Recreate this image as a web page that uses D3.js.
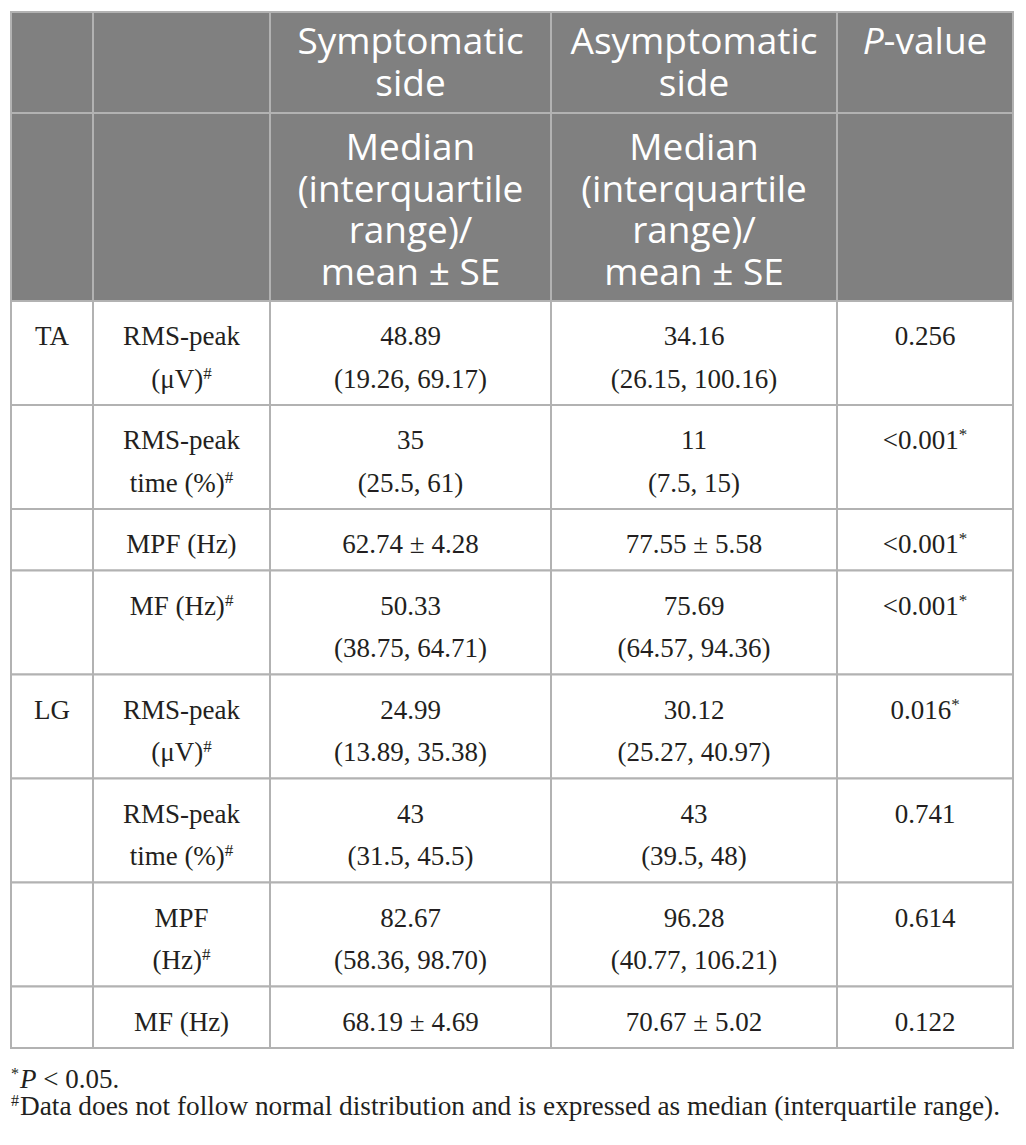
<!DOCTYPE html>
<html>
<head>
<meta charset="utf-8">
<script src="https://cdn.jsdelivr.net/npm/d3@7"></script>
<style>
  body { margin: 0; background: #fff; }
  svg { display: block; }
</style>
</head>
<body>
<svg></svg>
<script>
const width = 1026;
const height = 1145;

// header texts, one entry per column
const headerTop = [[], [], ["Symptomatic", "side"], ["Asymptomatic", "side"], ["P-value"]];
const headerSub = [[], [], ["Median", "(interquartile", "range)/", "mean ± SE"],
  ["Median", "(interquartile", "range)/", "mean ± SE"], []];

// body
const muscles = ["TA", "", "", "", "LG", "", "", ""];
const parameters = [
  ["RMS-peak", "(μV)#"], ["RMS-peak", "time (%)#"], ["MPF (Hz)"], ["MF (Hz)#"],
  ["RMS-peak", "(μV)#"], ["RMS-peak", "time (%)#"], ["MPF", "(Hz)#"], ["MF (Hz)"]
];
const symptomatic = [
  ["48.89", "(19.26, 69.17)"], ["35", "(25.5, 61)"], ["62.74 ± 4.28"], ["50.33", "(38.75, 64.71)"],
  ["24.99", "(13.89, 35.38)"], ["43", "(31.5, 45.5)"], ["82.67", "(58.36, 98.70)"], ["68.19 ± 4.69"]
];
const asymptomatic = [
  ["34.16", "(26.15, 100.16)"], ["11", "(7.5, 15)"], ["77.55 ± 5.58"], ["75.69", "(64.57, 94.36)"],
  ["30.12", "(25.27, 40.97)"], ["43", "(39.5, 48)"], ["96.28", "(40.77, 106.21)"], ["70.67 ± 5.02"]
];
const pValues = ["0.256", "<0.001*", "<0.001*", "<0.001*", "0.016*", "0.741", "0.614", "0.122"];

const footnotes = ["*P < 0.05.",
  "#Data does not follow normal distribution and is expressed as median (interquartile range)."];

// layout
const colWidths = [82, 177, 281, 286, 176];
const tableLeft = 11, tableTop = 12;
const colEdges = [tableLeft, ...d3.cumsum(colWidths).map(d => d + tableLeft)];
const x = i => colEdges[i];
const cx = i => (colEdges[i] + colEdges[i + 1]) / 2;

const headLine = 41.5, bodyLine = 42.5;
const headHeights = [101, 188];
const rows = muscles.map((m, i) => {
  const cells = [[m], parameters[i], symptomatic[i], asymptomatic[i], [pValues[i]]];
  const lines = d3.max(cells, c => c.length);
  return { cells, h: 19 + bodyLine * lines };
});
const bodyTop = tableTop + d3.sum(headHeights);
const rowTops = [bodyTop, ...d3.cumsum(rows, r => r.h).map(d => d + bodyTop)];

const lineColor = "#b2b2b2";

const svg = d3.select("svg")
  .attr("width", width)
  .attr("height", height);

// one text per cell, one tspan per line; a trailing # or * becomes superscript
function writeCell(text, lines, x0, y0, lh, supSize, rise) {
  lines.forEach((str, k) => {
    if (!str) return;
    const line = text.append("tspan").attr("x", x0).attr("y", y0 + k * lh);
    let main = str, sup = null;
    if (/[#*]$/.test(str)) { main = str.slice(0, -1); sup = str.slice(-1); }
    if (main === "P-value") {
      line.append("tspan").attr("font-style", "italic").text("P");
      line.append("tspan").text("-value");
    } else {
      line.append("tspan").text(main);
    }
    if (sup) {
      line.append("tspan")
        .attr("font-size", supSize)
        .attr("dy", -rise)
        .text(sup);
    }
  });
}

// header
const header = svg.append("g").attr("class", "header");
const headRows = [headerTop, headerSub];
let ht = tableTop;
headRows.forEach((cols, r) => {
  const h = headHeights[r];
  cols.forEach((lines, c) => {
    header.append("rect")
      .attr("x", x(c)).attr("y", ht)
      .attr("width", colWidths[c]).attr("height", h)
      .attr("fill", "#808080")
      .attr("stroke", lineColor)
      .attr("stroke-width", 2);
    if (!lines.length) return;
    const t = header.append("text")
      .attr("text-anchor", "middle")
      .attr("fill", "#fff")
      .attr("font-family", "'Open Sans', sans-serif")
      .attr("font-size", 37);
    writeCell(t, lines, cx(c), ht + (r === 0 ? 42 : 47), headLine, 20, 14);
  });
  ht += h;
});

// body
const body = svg.append("g").attr("class", "body");
rows.forEach((row, r) => {
  const y0 = rowTops[r];
  row.cells.forEach((lines, c) => {
    body.append("rect")
      .attr("x", x(c)).attr("y", y0)
      .attr("width", colWidths[c]).attr("height", row.h)
      .attr("fill", "#fff")
      .attr("stroke", lineColor)
      .attr("stroke-width", 2);
    if (!lines.some(s => s)) return;
    const t = body.append("text")
      .attr("text-anchor", "middle")
      .attr("fill", "#231f20")
      .attr("font-family", "'Liberation Serif', serif")
      .attr("font-size", 27);
    writeCell(t, lines, cx(c), y0 + 44, bodyLine, 17, 9);
  });
});

// footnotes
const tableBottom = rowTops[rowTops.length - 1];
const notes = svg.append("g").attr("class", "notes");
footnotes.forEach((s, i) => {
  const t = notes.append("text")
    .attr("x", tableLeft)
    .attr("y", tableBottom + 40 + i * 27)
    .attr("fill", "#231f20")
    .attr("font-family", "'Liberation Serif', serif")
    .attr("font-size", 27);
  t.append("tspan").attr("font-size", 16).attr("dy", -9).text(s[0]);
  if (i === 0) {
    t.append("tspan").attr("dy", 9).attr("dx", 1).attr("font-style", "italic").text("P");
    t.append("tspan").text(s.slice(2));
  } else {
    t.append("tspan").attr("dy", 9).attr("dx", 1)
      .attr("textLength", 980)
      .attr("lengthAdjust", "spacingAndGlyphs")
      .text(s.slice(1));
  }
});
</script>
</body>
</html>
